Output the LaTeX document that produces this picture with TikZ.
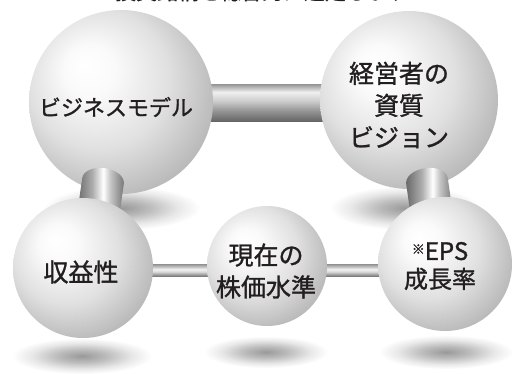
\documentclass[tikz,border=0pt]{standalone}
\usepackage{fontspec}
\newfontfamily\cjk{Noto Sans CJK JP}[FakeBold=1.2]
\usetikzlibrary{calc,shapes.geometric}
\definecolor{txt}{HTML}{231F20}
\pgfdeclareradialshading{sph}{\pgfpoint{-10bp}{10bp}}{color(0bp)=(white); color(7bp)=(black!2); color(19bp)=(black!12); color(30bp)=(black!27); color(39bp)=(black!37); color(50bp)=(black!38)}
\pgfdeclareradialshading{gshadow}{\pgfpointorigin}{color(0bp)=(black!40); color(9bp)=(black!26); color(18bp)=(black!9); color(25bp)=(white); color(50bp)=(white)}
\pgfdeclarehorizontalshading{rodsh}{100bp}{color(0bp)=(black!62); color(25bp)=(black!60); color(42bp)=(black!32); color(53bp)=(white); color(60bp)=(black!22); color(75bp)=(black!55); color(100bp)=(black!55)}
\pgfdeclareverticalshading{thickbar}{100bp}{color(0bp)=(black!60); color(25bp)=(black!60); color(40bp)=(black!40); color(52bp)=(black!20); color(64bp)=(black!6); color(75bp)=(black!42); color(100bp)=(black!42)}
\pgfdeclareverticalshading{thinbar}{100bp}{color(0bp)=(black!55); color(25bp)=(black!55); color(45bp)=(black!15); color(55bp)=(black!5); color(75bp)=(black!40); color(100bp)=(black!40)}
\tikzset{
  ball/.style={circle, shading=sph, minimum size=#1, inner sep=0pt, outer sep=0pt},
  gshad/.style={ellipse, shading=gshadow, inner sep=0pt},
  lbl/.style={text=txt, align=center, font=\cjk\fontsize{25}{32}\selectfont},
  rodfill/.style={shading=rodsh},
}
\begin{document}
\begin{tikzpicture}[x=1pt,y=-1pt]
\useasboundingbox (0,0) rectangle (520,373);
% title (cut off at top)
\node[anchor=base, text=txt, font=\cjk\fontsize{21}{21}\selectfont, inner sep=0pt] (title) at (262,-0.5) {投資銘柄を総合的に選定します};
% shadows of upper spheres
\node[gshad, minimum width=156pt, minimum height=44pt] (shTL) at (122,208) {};
\node[gshad, minimum width=150pt, minimum height=44pt] (shTR) at (405,208) {};
% coordinates for sphere centres
\coordinate (cTL) at (121,102);
\coordinate (cTR) at (409,100);
% thick bar
\shade[shading=thickbar] (180,84) rectangle (350,121);
% upper spheres
\node[ball=184pt] (biz) at (cTL) {};
\node[ball=178pt] (mgmt) at (cTR) {};
% rods
\begin{scope}[shift={(103,181)}, rotate=-8]
  \shade[rodfill] (-21pt,0pt) arc[start angle=180, end angle=0, x radius=21pt, y radius=13pt] -- (21pt,-46pt) -- (-21pt,-46pt) -- cycle;
\end{scope}
\begin{scope}[shift={(427,181)}, rotate=8]
  \shade[rodfill] (-21pt,0pt) arc[start angle=180, end angle=0, x radius=21pt, y radius=13pt] -- (21pt,-46pt) -- (-21pt,-46pt) -- cycle;
\end{scope}
% ground shadows
\node[gshad, minimum width=140pt, minimum height=36pt] (shL) at (82,356) {};
\node[gshad, minimum width=124pt, minimum height=32pt] (shM) at (266,352) {};
\node[gshad, minimum width=134pt, minimum height=34pt] (shR) at (446,352) {};
% thin bars
\shade[shading=thinbar] (140,264.5) rectangle (395,276.5);
% lower spheres
\node[ball=140pt] (prof) at (83,268) {};
\node[ball=120pt] (price) at (267,266) {};
\node[ball=134pt] (eps) at (445,264) {};
% labels
\node[lbl, font=\cjk\fontsize{22}{28}\selectfont] (tBiz) at (116,107) {ビジネスモデル};
\node[lbl] (tMgmt) at (399,105) {経営者の\\資質\\ビジョン};
\node[lbl] (tProf) at (81,272) {収益性};
\node[lbl] (tPrice) at (266,271) {現在の\\株価水準};
\node[lbl, font=\cjk\fontsize{24}{28}\selectfont] (tEps) at (440,266) {{\fontsize{13}{13}\selectfont\raisebox{6pt}{※}}EPS\\成長率};
\end{tikzpicture}
\end{document}
